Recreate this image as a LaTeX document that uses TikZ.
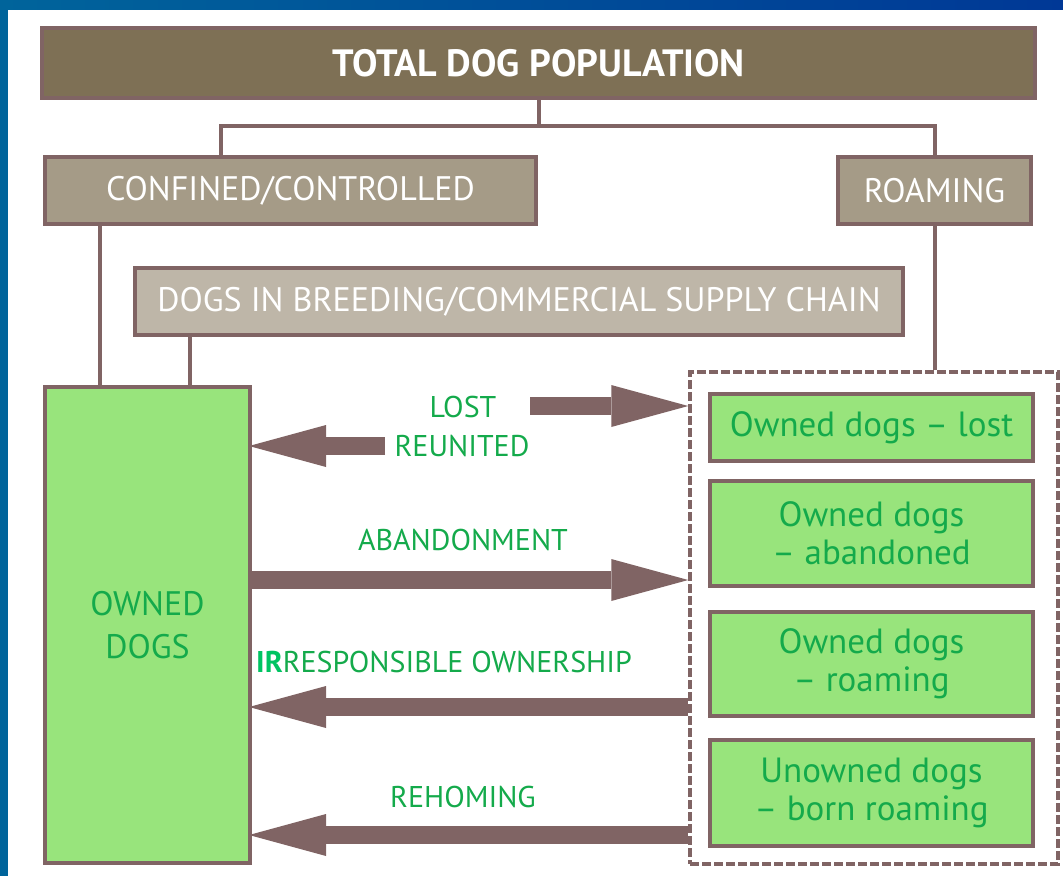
\documentclass[tikz,border=0pt]{standalone}
\usepackage{fontspec}
\setmainfont{PT Sans}
\usetikzlibrary{positioning, arrows.meta}
\definecolor{mauve}{HTML}{806464}
\definecolor{darktan}{HTML}{7E7055}
\definecolor{midtan}{HTML}{A59B87}
\definecolor{lighttan}{HTML}{BEB6A8}
\definecolor{dogsgreen}{HTML}{98E47C}
\definecolor{textgreen}{HTML}{14AA4B}
\definecolor{brightgreen}{HTML}{00C462}
\definecolor{frameblue}{HTML}{00649B}
\definecolor{deepblue}{HTML}{003896}
\tikzset{
  x=1pt, y=-1pt, % one unit is one pixel of the reference, y runs downwards
  tanbox/.style={draw=mauve, line width=4pt, inner sep=0pt, text=white, font=\fontsize{34}{38}\selectfont}, % grey-brown header boxes
  greenbox/.style={draw=mauve, line width=4pt, fill=dogsgreen, inner sep=0pt, text=textgreen, align=center, font=\fontsize{35}{38}\selectfont}, % dog groups
  link/.style={draw=mauve, line width=4pt}, % thin tree lines
  flow/.style={draw=mauve, line width=18pt, -{Triangle[length=77pt, width=42pt, line width=0pt]}}, % fat arrows between groups
  flowtext/.style={text=textgreen, font=\fontsize{30}{36}\selectfont}, % arrow captions
}

\begin{document}
\begin{tikzpicture}
  \useasboundingbox (0,0) rectangle (1063,876);
  \fill[left color=frameblue, right color=deepblue] (0,0) rectangle (1063,9);
  \fill[frameblue] (0,0) rectangle (8,876);

  \node[tanbox, fill=darktan, minimum width=993pt, minimum height=70pt, font=\bfseries\fontsize{38}{42}\selectfont] (total) at (538.5,63) {TOTAL DOG POPULATION};
  \node[tanbox, fill=midtan, minimum width=491pt, minimum height=67pt] (confined) at (290.5,190.5) {CONFINED/CONTROLLED};
  \node[tanbox, fill=midtan, minimum width=193pt, minimum height=67pt] (roaming) at (934.5,190.5) {ROAMING};
  \node[tanbox, fill=lighttan, minimum width=768pt, minimum height=67pt] (breeding) at (519,301.5) {DOGS IN BREEDING/COMMERCIAL SUPPLY CHAIN};
  \node[greenbox, minimum width=205pt, minimum height=476pt, font=\fontsize{34}{43}\selectfont] (owned) at (147.5,625) {OWNED\\DOGS};

  \node[draw=mauve, line width=3.5pt, dash pattern=on 9pt off 3pt, minimum width=368pt, minimum height=492pt, inner sep=0pt] (frame) at (874,618) {};
  \node[greenbox, minimum width=323pt, minimum height=67pt] (lost) at (871.5,427.5) {Owned dogs – lost};
  \node[greenbox, minimum width=323pt, minimum height=105pt, below=16pt of lost] (abandoned) {Owned dogs\\– abandoned};
  \node[greenbox, minimum width=323pt, minimum height=104pt, below=22pt of abandoned] (ownroaming) {Owned dogs\\– roaming};
  \node[greenbox, minimum width=323pt, minimum height=106pt, below=20pt of ownroaming] (born) {Unowned dogs\\– born roaming};

  % tree lines
  \draw[link] (total.south) -- ++(0,26) -| ([xshift=-70pt]confined.north);
  \draw[link] (total.south) -- ++(0,26) -| (roaming.north);
  \draw[link] ([xshift=57pt]confined.south west) -- ([xshift=57pt]owned.north west);
  \draw[link] ([xshift=57pt]breeding.south west) -- ([xshift=147pt]owned.north west);
  \draw[link] (roaming.south) -- (roaming.south |- frame.north);

  % flows
  \coordinate (lostrow) at (530,406);
  \coordinate (reunitrow) at (385,446);
  \coordinate (abandonrow) at (0,580);
  \coordinate (irrow) at (0,707);
  \coordinate (rehomerow) at (0,835);
  \draw[flow] (lostrow) -- (lostrow -| frame.west);
  \draw[flow, shorten >=-3pt] (reunitrow) -- (reunitrow -| owned.east);
  \draw[flow] (abandonrow -| owned.east) -- (abandonrow -| frame.west);
  \draw[flow, shorten >=-3pt] (irrow -| frame.west) -- (irrow -| owned.east);
  \draw[flow, shorten >=-3pt] (rehomerow -| frame.west) -- (rehomerow -| owned.east);

  \node[flowtext] (losttext) at (463,407) {LOST};
  \node[flowtext] (reunitext) at (462,446) {REUNITED};
  \node[flowtext] (abandontext) at (463,540) {ABANDONMENT};
  \node[flowtext, anchor=west, inner sep=0pt] (irtext) at (256,662) {{\color{brightgreen}\bfseries IR}RESPONSIBLE OWNERSHIP};
  \node[flowtext] (rehometext) at (463,797) {REHOMING};
\end{tikzpicture}
\end{document}
